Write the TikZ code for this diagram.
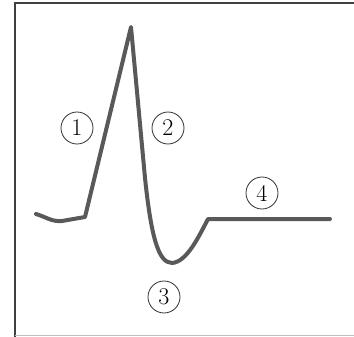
\documentclass[tikz,border=0pt]{standalone}
\usepackage{tikz}

\begin{document}
\begin{tikzpicture}[
    x=1pt, y=-1pt,
    frame/.style={line width=1.6pt, draw=black!75},
    trace/.style={line width=4pt, draw=black!65, line join=round, line cap=round},
    phase/.style={draw=black!80, circle, line width=0.8pt, minimum size=32pt, inner sep=0pt, font=\fontsize{24}{24}\selectfont}
]
\useasboundingbox (0,0) rectangle (354,337);

% frame of the figure
\draw[frame] (15,337) -- (15,3) -- (354,3);
\draw[black!25, line width=1pt] (15,335) -- (354,335);

% action potential trace
\draw[trace] (36,214) .. controls (46,217) and (52,222) .. (62,221)
    -- (85,217) -- (131,27) -- (145,178)
    .. controls (151,235) and (158,263) .. (172,263)
    .. controls (187,262) and (199,236) .. (208,219) -- (330,219);

% phase labels
\node[phase] (p1) at (77,128) {1};
\node[phase] (p2) at (168,128) {2};
\node[phase] (p3) at (164,297) {3};
\node[phase] (p4) at (262,193) {4};

\end{tikzpicture}
\end{document}
